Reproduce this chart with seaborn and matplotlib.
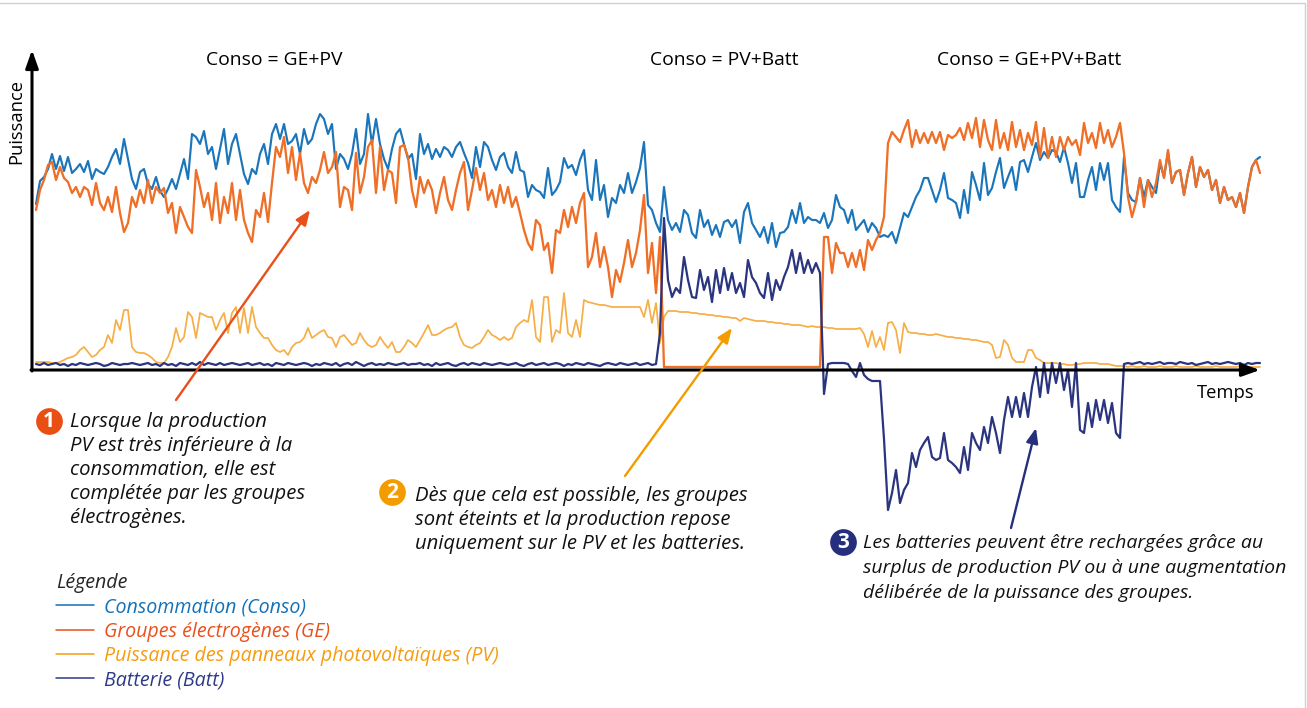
import numpy as np
import pandas as pd
import matplotlib
matplotlib.use('Agg')
import matplotlib.pyplot as plt
from matplotlib.lines import Line2D
import seaborn as sns

# values, one sample every 4 time units
conso = [165, 188, 192, 200, 215, 200, 213, 198, 212, 196, 200, 205, 197, 208, 190, 200, 197, 195, 202, 212,
         220, 205, 230, 210, 190, 180, 197, 200, 185, 180, 192, 178, 172, 180, 190, 180, 195, 210, 190, 235,
         232, 225, 238, 215, 222, 200, 220, 240, 205, 225, 235, 215, 195, 185, 200, 195, 215, 225, 205, 235,
         245, 230, 245, 225, 228, 235, 215, 240, 225, 230, 245, 255, 250, 235, 245, 200, 215, 210, 200, 215,
         240, 205, 215, 255, 225, 250, 225, 210, 200, 220, 235, 240, 225, 210, 215, 190, 235, 215, 225, 210, 220,
         212, 222, 219, 212, 222, 227, 216, 206, 191, 222, 202, 227, 222, 209, 199, 212, 216, 202, 196, 217,
         199, 197, 172, 184, 179, 177, 171, 201, 174, 179, 187, 211, 201, 204, 194, 209, 219, 179, 169, 209,
         169, 184, 152, 171, 166, 184, 176, 196, 176, 187, 201, 227, 164, 159, 146, 137, 182, 149, 139, 146,
         137, 159, 154, 136, 131, 159, 142, 149, 134, 144, 132, 147, 149, 142, 149, 126, 157, 166, 146, 139,
         132, 142, 126, 146, 122, 136, 137, 142, 159, 146, 166, 146, 152, 149, 149, 146, 156, 141, 149, 174,
         162, 159, 146, 159, 139, 144, 149, 137,
         146, 141, 132, 134, 132, 137, 126, 141, 156, 152, 162, 172, 179, 191, 191, 179, 167, 179, 196, 171,
         169, 166, 151, 179, 156, 197, 184, 169, 206, 174, 181, 197, 211, 181, 192, 202, 179, 207, 209, 197,
         212, 226, 209, 217, 211, 219, 217, 207, 222, 206, 186, 206, 172, 172, 189, 202, 179, 206, 189, 206,
         169, 162, 157, 212, 176, 169, 167, 191, 172, 189, 182, 176, 206, 192, 217, 186, 197, 199, 174, 196,
         212, 182, 202, 192, 199, 179, 189, 166, 182, 169, 172, 162, 176, 156, 182, 202, 209, 212]
ge = [159, 179, 189, 204, 207, 189, 202, 191, 187, 176, 182, 172, 182, 179, 164, 186, 166, 159, 172, 157,
      182, 156, 137, 146, 172, 162, 179, 166, 189, 166, 182, 176, 181, 156, 166, 136, 162, 152, 142, 136,
      199, 182, 162, 176, 149, 186, 146, 172, 156, 186, 149, 179, 149, 136, 127, 159, 152, 176, 147, 186,
      222, 212, 232, 196, 222, 189, 216, 186, 176, 192, 186, 199, 217, 196, 202, 217, 162, 182, 179, 159,
      216, 176, 192, 222, 229, 176, 222, 179, 199, 196, 166, 222, 224, 212, 179, 162, 192, 176, 189, 179, 156,
      176, 192, 169, 159, 179, 196, 207, 159, 179, 201, 179, 196, 169, 179, 162, 184, 166, 182, 162, 172,
      156, 139, 126, 119, 149, 144, 119, 126, 96, 139, 136, 159, 142, 162, 146, 166, 176, 102, 112, 136,
      102, 122, 102, 72, 99, 87, 106, 129, 102, 116, 139, 174, 96, 126, 76, 132,
      2, 2, 2, 2, 2, 2, 2, 2, 2, 2, 2, 2, 2, 2, 2, 2, 2, 2, 2, 2,
      2, 2, 2, 2, 2, 2, 2, 2, 2, 2, 2, 2, 2, 2, 2, 2, 2, 2, 2, 2,
      132, 132, 96, 126, 116, 116, 102, 116, 102, 119, 99, 129,
      119, 129, 136, 152, 226, 237, 232, 227, 239, 249, 222, 239, 226, 236, 226, 237, 226, 237, 219, 234,
      231, 234, 241, 229, 246, 231, 251, 222, 249, 229, 219, 249, 221, 236, 219, 247, 222, 239, 219, 236,
      224, 247, 212, 241, 211, 232, 212, 232, 219, 232, 224, 229, 214, 246, 226, 236, 221, 246, 226, 239,
      222, 232, 246, 216, 172, 152, 167, 191, 162, 189, 172, 186, 209, 191, 219, 186, 197, 199, 174, 196,
      212, 182, 202, 192, 199, 179, 189, 166, 182, 169, 172, 162, 176, 156, 182, 202, 209, 196]
pv = [7, 7, 7, 7, 6, 6, 7, 9, 11, 12, 14, 19, 22, 17, 12, 14, 19, 22, 34, 26,
      49, 39, 59, 59, 22, 17, 16, 16, 14, 11, 7, 6, 6, 12, 22, 41, 27, 32, 57, 52,
      31, 56, 54, 52, 52, 39, 49, 56, 36, 56, 62, 36, 61, 36, 62, 42, 36, 31, 31, 24,
      19, 17, 19, 14, 22, 26, 27, 31, 41, 31, 34, 37, 39, 32, 31, 22, 32, 34, 29, 24,
      26, 36, 29, 24, 22, 24, 32, 26, 21, 27, 17, 17, 22, 29, 26, 22, 29, 36, 44, 34, 34,
      36, 39, 41, 42, 46, 32, 24, 22, 21, 24, 26, 32, 39, 34, 32, 29, 32, 29, 31, 42,
      46, 49, 47, 69, 32, 27, 72, 72, 27, 39, 36, 76, 36, 32, 49, 32, 69, 67, 66, 65,
      64, 64, 63, 62, 62, 62, 62, 62, 62, 62, 62, 52, 69, 46, 66, 26, 52,
      58, 58, 58, 57, 57, 57, 56, 56, 55, 55, 54, 54, 53, 53, 52, 52, 51, 51, 48, 51,
      50, 49, 48, 48, 48, 47, 47, 46, 46, 45, 45, 44, 44, 44, 43, 42, 43, 42, 42, 42,
      41, 41, 40, 40, 40, 40, 40, 40, 41, 35, 22, 38,
      22, 32, 19, 46, 47, 39, 16, 46, 37, 36, 36, 35, 35, 34, 34, 35, 34, 33, 32, 32,
      31, 31, 30, 30, 29, 29, 28, 27, 27, 24, 11, 12, 29, 24, 11, 7, 7, 7, 19, 19,
      11, 9, 6, 6, 6, 6, 5, 5, 4, 4, 5, 5, 6, 6, 6, 6, 5, 5, 5, 4, 3, 3, 3,
      2, 3, 2, 2, 3, 2, 2, 2, 3, 2, 2, 2, 3, 2, 2, 2, 2, 3, 2, 2, 2, 2, 3, 2, 2,
      2, 2, 2, 3, 2, 2, 2, 2, 2]
batt = [5, 4, 6, 4, 5, 6, 4, 5, 3, 5, 4, 6, 5, 4, 5, 6, 5, 3, 4, 6, 5, 4, 5, 5, 6, 5, 4, 5, 6, 4,
        5, 3, 6, 4, 5, 3, 6, 5, 4, 6, 4, 7, 4, 6, 5, 4, 6, 4, 5, 6, 5, 4, 5, 6, 4, 5, 6, 4, 5, 3,
        6, 5, 4, 6, 5, 4, 5, 6, 5, 3, 5, 4, 6, 5, 4, 6, 3, 5, 6, 4, 7, 5, 3, 5, 6, 4, 5, 4, 6, 5,
        4, 5, 6, 4, 5, 5, 6, 4, 5, 3, 6, 4, 5, 6, 4, 3, 5, 6, 4, 6, 5, 4, 6, 5, 4, 5, 6, 5, 4, 5,
        6, 4, 3, 5, 6, 4, 5, 6, 4, 5, 6, 5, 3, 5, 4, 6, 5, 4, 6, 5, 4, 3, 5, 6, 5, 4, 6, 5, 4, 5,
        6, 4, 5, 6, 4, 5, 36,
        151, 89, 72, 81, 76, 112, 89, 72, 71, 99, 79, 92, 67, 99, 76, 101, 79, 96, 76, 86,
        72, 109, 92, 86, 76, 71, 96, 69, 89, 79, 92, 102, 119, 96, 116, 96, 109, 96, 106, 96,
        -25, 5, 6, 6, 6, 6, 5, -2, -8, 6, -6, -10, -12, -12, -12, -70,
        -141, -124, -101, -134, -121, -114, -84, -98, -81, -74, -68, -88, -91, -89, -64, -91, -94, -98, -104, -78,
        -101, -64, -74, -81, -58, -74, -48, -64, -84, -51, -28, -48, -28, -48, -24, -48, -18, 2, -28, 6,
        -24, 6, -14, 6, -21, -1, -38, 6, -61, -64, -34, -58, -31, -51, -31, -54, -34, -64, -69, 5,
        6, 5, 6, 7, 5, 6, 5, 6, 7, 5, 6, 6, 5, 7, 6, 5, 6, 4, 5, 6, 7, 5, 6, 5, 6, 7, 6, 5, 6, 4, 6, 5, 6, 6]

series = {"Conso": conso, "GE": ge, "PV": pv, "Batt": batt}
colors = {"Conso": "#1b75bb", "GE": "#ef6f27", "PV": "#f6ae45", "Batt": "#2a347f"}
widths = {"Conso": 1.55, "GE": 1.65, "PV": 1.25, "Batt": 1.6}
legend_labels = ["Consommation (Conso)", "Groupes électrogènes (GE)",
                 "Puissance des panneaux photovoltaïques (PV)", "Batterie (Batt)"]
legend_colors = ["#1272b8", "#e9501c", "#f59c0f", "#2e3a87"]
headers = ["Conso = GE+PV", "Conso = PV+Batt", "Conso = GE+PV+Batt"]

sns.set_theme(style="white")
plt.rcParams['font.family'] = ['Open Sans', 'DejaVu Sans']

W, H = 1307, 708


def dx(px):
    return px - 36


def dy(py):
    return 369 - py


fig = plt.figure(figsize=(W / 100, H / 100), dpi=100)
ax = fig.add_axes([0, 0, 1, 1])
ax.set_xlim(dx(0), dx(W))
ax.set_ylim(dy(H), dy(0))
ax.axis('off')

for z, name in zip([2, 3, 2.5, 4], series):
    values = series[name]
    df = pd.DataFrame({"t": 4 * np.arange(len(values)), "p": values})
    sns.lineplot(data=df, x="t", y="p", ax=ax, color=colors[name], lw=widths[name], estimator=None,
                 errorbar=None, zorder=z, legend=False)

# axes as arrows
head = dict(arrowstyle='-|>,head_length=0.9,head_width=0.32', color='black', lw=2.2, shrinkA=0, shrinkB=0)
ax.annotate('', xy=(dx(1260), dy(370)), xytext=(dx(31), dy(370)), arrowprops=head, zorder=6)
ax.annotate('', xy=(dx(32), dy(50)), xytext=(dx(32), dy(371)), arrowprops=head, zorder=6)
ax.text(dx(16), dy(122), "Puissance", rotation=90, ha='center', va='center', fontsize=13.2, color='black')
ax.text(dx(1226), dy(393), "Temps", ha='center', va='center', fontsize=13.2, color='black')

for label, xc in zip(headers, [274, 724, 1029]):
    ax.text(dx(xc), dy(60), label, ha='center', va='center', fontsize=13.9, color='black')

# callouts
arrows = [((176, 400), (310, 210), "#e8501a"), ((625, 476), (732, 328), "#f39c00"), ((1011, 528), (1036, 428), "#262f7d")]
for start, end, col in arrows:
    ax.annotate('', xy=(dx(end[0]), dy(end[1])), xytext=(dx(start[0]), dy(start[1])), zorder=7,
                arrowprops=dict(arrowstyle='-|>,head_length=0.75,head_width=0.3', color=col, lw=1.7, shrinkA=0, shrinkB=0))

notes = [
    ("1", 49, 421, "#e94e12", 70, 14.6, [422, 446, 470, 494, 518],
     ["Lorsque la production", "PV est très inférieure à la", "consommation, elle est",
      "complétée par les groupes", "électrogènes."]),
    ("2", 392, 492, "#f39c00", 415, 14.6, [496, 520, 544],
     ["Dès que cela est possible, les groupes", "sont éteints et la production repose",
      "uniquement sur le PV et les batteries."]),
    ("3", 843, 542, "#262f7d", 863, 14.0, [543, 568, 593],
     ["Les batteries peuvent être rechargées grâce au", "surplus de production PV ou à une augmentation",
      "délibérée de la puissance des groupes."]),
]
for num, cx, cy, col, tx, size, ys, lines in notes:
    ax.scatter([dx(cx)], [dy(cy)], s=370, color=col, linewidths=0, zorder=8)
    ax.text(dx(cx), dy(cy + 0.5), num, color='white', fontsize=15, fontweight='bold', ha='center', va='center', zorder=9)
    for y, line in zip(ys, lines):
        ax.text(dx(tx), dy(y), line, style='italic', fontsize=size, ha='left', va='center', color='#111111')

# legend
handles = [Line2D([], [], color=c, lw=1.1) for c in legend_colors]
leg = ax.legend(handles, legend_labels, title="Légende", loc='upper left', frameon=False,
                bbox_to_anchor=(dx(56), dy(573)), bbox_transform=ax.transData, borderaxespad=0, borderpad=0,
                labelcolor=legend_colors, handlelength=1.92, handletextpad=0.5, labelspacing=0.22,
                prop=dict(family='Open Sans', style='italic', size=14.15),
                title_fontproperties=dict(family='Open Sans', style='italic', size=14.15))
leg._legend_box.align = 'left'

# frame at the edge of the page
ax.plot([dx(0), dx(1305), dx(1305)], [dy(3), dy(3), dy(H)], color='#d0d0d0', lw=1, zorder=1)

fig.savefig("out.png", dpi=100)
plt.close(fig)
